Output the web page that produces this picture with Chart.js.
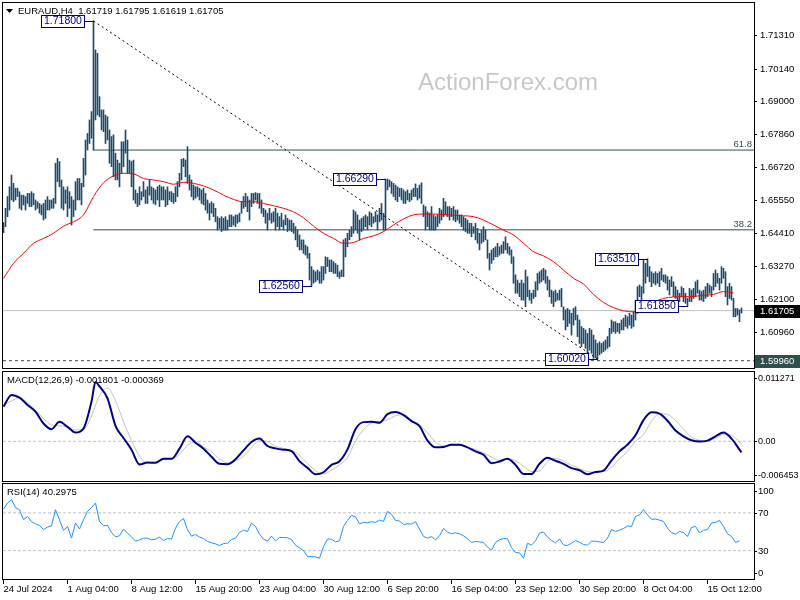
<!DOCTYPE html>
<html>
<head>
<meta charset="utf-8">
<title>EURAUD H4</title>
<script src="https://cdn.jsdelivr.net/npm/chart.js@4.4.1/dist/chart.umd.min.js"></script>
<style>
    body { margin: 0; background: #fff; }
    #wrap { position: relative; width: 800px; height: 600px; overflow: hidden; background: #fff; }
    canvas { position: absolute; left: 0; }
</style>
</head>
<body>
<div id="wrap">
    <canvas id="priceChart" width="800" height="370" style="top:0"></canvas>
    <canvas id="macdChart" width="800" height="112" style="top:370px"></canvas>
    <canvas id="rsiChart" width="800" height="118" style="top:482px"></canvas>
</div>
<script>
const symbolTitle = 'EURAUD,H4  1.61719 1.61795 1.61619 1.61705';

// H4 bars, one per index
const barHigh = [
1.6477,1.6527,1.6568,1.6602,1.6643,1.6614,1.6597,1.6597,1.6585,1.6573,
1.6573,1.6568,1.6579,1.6579,1.6585,1.6579,1.6556,1.6550,1.6544,1.6539,
1.6544,1.6556,1.6568,1.6556,1.6556,1.6562,1.6684,1.6701,1.6690,1.6626,
1.6602,1.6591,1.6602,1.6585,1.6568,1.6556,1.6620,1.6631,1.6631,1.6614,
1.6701,1.6765,1.6788,1.6835,1.6864,1.7180,1.7079,1.7067,1.6916,1.6870,
1.6870,1.6852,1.6846,1.6800,1.6777,1.6783,1.6719,1.6695,1.6684,1.6759,
1.6759,1.6800,1.6765,1.6695,1.6690,1.6695,1.6591,1.6579,1.6602,1.6585,
1.6620,1.6591,1.6602,1.6626,1.6602,1.6597,1.6591,1.6602,1.6608,1.6602,
1.6602,1.6591,1.6602,1.6585,1.6585,1.6579,1.6602,1.6620,1.6649,1.6698,
1.6701,1.6695,1.6742,1.6643,1.6626,1.6608,1.6602,1.6602,1.6597,1.6591,
1.6597,1.6579,1.6556,1.6544,1.6550,1.6544,1.6527,1.6498,1.6492,1.6498,
1.6492,1.6498,1.6486,1.6504,1.6504,1.6498,1.6504,1.6504,1.6510,1.6550,
1.6568,1.6579,1.6568,1.6556,1.6579,1.6579,1.6582,1.6579,1.6579,1.6556,
1.6527,1.6521,1.6510,1.6527,1.6510,1.6515,1.6527,1.6510,1.6498,1.6510,
1.6486,1.6504,1.6492,1.6486,1.6486,1.6475,1.6463,1.6451,1.6434,1.6417,
1.6417,1.6399,1.6393,1.6370,1.6324,1.6312,1.6306,1.6312,1.6306,1.6324,
1.6324,1.6358,1.6356,1.6347,1.6347,1.6341,1.6335,1.6329,1.6306,1.6312,
1.6417,1.6422,1.6440,1.6451,1.6463,1.6521,1.6515,1.6504,1.6486,1.6492,
1.6498,1.6504,1.6498,1.6515,1.6510,1.6498,1.6515,1.6504,1.6527,1.6544,
1.6510,1.6629,1.6629,1.6626,1.6620,1.6614,1.6608,1.6602,1.6597,1.6597,
1.6591,1.6585,1.6591,1.6579,1.6591,1.6597,1.6612,1.6597,1.6608,1.6616,
1.6539,1.6533,1.6515,1.6510,1.6533,1.6504,1.6498,1.6504,1.6527,1.6521,
1.6562,1.6550,1.6533,1.6533,1.6527,1.6533,1.6521,1.6521,1.6504,1.6504,
1.6498,1.6492,1.6486,1.6475,1.6475,1.6463,1.6475,1.6457,1.6440,1.6451,
1.6463,1.6451,1.6417,1.6370,1.6382,1.6388,1.6393,1.6405,1.6393,1.6399,
1.6411,1.6428,1.6405,1.6393,1.6382,1.6358,1.6295,1.6277,1.6266,1.6277,
1.6266,1.6312,1.6289,1.6242,1.6231,1.6242,1.6271,1.6300,1.6306,1.6312,
1.6318,1.6312,1.6289,1.6277,1.6242,1.6237,1.6242,1.6231,1.6242,1.6248,
1.6184,1.6173,1.6178,1.6173,1.6161,1.6178,1.6184,1.6155,1.6138,1.6115,
1.6109,1.6103,1.6091,1.6109,1.6103,1.6085,1.6068,1.6056,1.6062,1.6056,
1.6062,1.6068,1.6080,1.6109,1.6138,1.6132,1.6132,1.6126,1.6126,1.6138,
1.6144,1.6155,1.6149,1.6161,1.6155,1.6167,1.6207,1.6254,1.6260,1.6254,
1.6347,1.6335,1.6351,1.6324,1.6306,1.6300,1.6306,1.6300,1.6306,1.6318,
1.6295,1.6295,1.6289,1.6277,1.6289,1.6271,1.6254,1.6242,1.6231,1.6254,
1.6248,1.6231,1.6213,1.6248,1.6242,1.6248,1.6271,1.6277,1.6242,1.6237,
1.6242,1.6254,1.6266,1.6260,1.6254,1.6300,1.6312,1.6300,1.6283,1.6324,
1.6318,1.6306,1.6254,1.6266,1.6254,1.6213,1.6178,1.6178,1.6173,1.6180
];
const barLow = [
1.6442,1.6463,1.6498,1.6521,1.6556,1.6550,1.6556,1.6568,1.6527,1.6521,
1.6539,1.6521,1.6544,1.6533,1.6533,1.6539,1.6521,1.6527,1.6510,1.6504,
1.6486,1.6492,1.6521,1.6521,1.6527,1.6527,1.6544,1.6620,1.6602,1.6527,
1.6521,1.6544,1.6498,1.6527,1.6469,1.6498,1.6521,1.6556,1.6556,1.6539,
1.6602,1.6643,1.6730,1.6753,1.6771,1.6730,1.6835,1.6852,1.6846,1.6800,
1.6794,1.6753,1.6765,1.6684,1.6672,1.6637,1.6626,1.6626,1.6602,1.6649,
1.6672,1.6719,1.6649,1.6649,1.6602,1.6556,1.6544,1.6533,1.6539,1.6556,
1.6568,1.6544,1.6544,1.6573,1.6556,1.6544,1.6539,1.6556,1.6533,1.6556,
1.6556,1.6533,1.6539,1.6556,1.6550,1.6544,1.6550,1.6568,1.6602,1.6626,
1.6672,1.6637,1.6614,1.6591,1.6568,1.6556,1.6562,1.6568,1.6556,1.6544,
1.6539,1.6521,1.6510,1.6486,1.6510,1.6498,1.6480,1.6451,1.6457,1.6446,
1.6451,1.6451,1.6451,1.6463,1.6463,1.6469,1.6463,1.6475,1.6480,1.6510,
1.6527,1.6533,1.6515,1.6486,1.6533,1.6544,1.6556,1.6544,1.6527,1.6510,
1.6498,1.6475,1.6451,1.6486,1.6475,1.6480,1.6451,1.6463,1.6451,1.6463,
1.6451,1.6469,1.6446,1.6451,1.6446,1.6440,1.6417,1.6393,1.6382,1.6382,
1.6370,1.6364,1.6353,1.6277,1.6256,1.6266,1.6271,1.6277,1.6266,1.6266,
1.6277,1.6300,1.6324,1.6306,1.6306,1.6300,1.6300,1.6289,1.6283,1.6289,
1.6289,1.6358,1.6393,1.6417,1.6428,1.6440,1.6451,1.6440,1.6417,1.6446,
1.6451,1.6463,1.6451,1.6469,1.6463,1.6475,1.6480,1.6451,1.6480,1.6486,
1.6451,1.6451,1.6591,1.6602,1.6579,1.6568,1.6556,1.6550,1.6568,1.6556,
1.6544,1.6544,1.6556,1.6550,1.6556,1.6568,1.6568,1.6556,1.6562,1.6544,
1.6498,1.6451,1.6463,1.6451,1.6451,1.6451,1.6451,1.6463,1.6475,1.6486,
1.6498,1.6504,1.6498,1.6486,1.6498,1.6486,1.6480,1.6486,1.6475,1.6463,
1.6451,1.6446,1.6440,1.6440,1.6428,1.6440,1.6417,1.6405,1.6382,1.6405,
1.6411,1.6417,1.6353,1.6312,1.6335,1.6347,1.6358,1.6358,1.6364,1.6370,
1.6370,1.6382,1.6370,1.6364,1.6335,1.6266,1.6231,1.6231,1.6219,1.6207,
1.6207,1.6184,1.6219,1.6207,1.6196,1.6213,1.6219,1.6242,1.6266,1.6271,
1.6277,1.6266,1.6242,1.6219,1.6196,1.6184,1.6202,1.6207,1.6207,1.6184,
1.6138,1.6103,1.6115,1.6126,1.6085,1.6120,1.6138,1.6080,1.6056,1.6045,
1.6056,1.6039,1.6022,1.6033,1.6022,1.6004,1.6006,1.6002,1.6016,1.6022,
1.6027,1.6033,1.6039,1.6045,1.6091,1.6097,1.6091,1.6097,1.6091,1.6103,
1.6103,1.6115,1.6109,1.6120,1.6109,1.6115,1.6138,1.6161,1.6219,1.6207,
1.6231,1.6266,1.6289,1.6271,1.6254,1.6266,1.6260,1.6266,1.6254,1.6277,
1.6271,1.6266,1.6242,1.6225,1.6254,1.6219,1.6213,1.6207,1.6202,1.6219,
1.6202,1.6196,1.6185,1.6202,1.6202,1.6213,1.6219,1.6231,1.6207,1.6207,
1.6202,1.6213,1.6219,1.6231,1.6219,1.6242,1.6254,1.6266,1.6242,1.6266,
1.6283,1.6219,1.6190,1.6213,1.6207,1.6149,1.6149,1.6155,1.6132,1.6162
];

// moving average, one reading every maStep bars
const maStep = 5;
const maValues = [
1.6283,1.6335,1.6370,1.6405,1.6422,1.6440,1.6465,1.6480,1.6504,1.6568,
1.6616,1.6640,1.6649,1.6647,1.6631,1.6626,1.6620,1.6611,1.6618,1.6614,
1.6605,1.6591,1.6573,1.6558,1.6550,1.6550,1.6544,1.6536,1.6527,1.6515,
1.6494,1.6465,1.6440,1.6422,1.6405,1.6408,1.6422,1.6431,1.6446,1.6469,
1.6490,1.6504,1.6507,1.6507,1.6505,1.6503,1.6501,1.6498,1.6486,1.6469,
1.6451,1.6434,1.6405,1.6376,1.6361,1.6341,1.6312,1.6283,1.6263,1.6227,
1.6199,1.6181,1.6170,1.6166,1.6177,1.6199,1.6213,1.6218,1.6219,1.6220,
1.6224,1.6227,1.6237,1.6232
];

const trendBars = [45, 297];
const trendValues = [1.71800, 1.60020];
const fibStartBar = 45;
const fibLevels = [1.67300, 1.64520];
const fibNames = ['61.8', '38.2'];
const markBars = [45, 191, 154, 322, 342, 297];
const markValues = [1.71800, 1.66290, 1.62560, 1.63510, 1.61850, 1.60020];
const lastPrice = 1.61705;
const supportPrice = 1.59960;
const priceTicks = [1.71310, 1.70140, 1.69000, 1.67860, 1.66720, 1.65550, 1.64410, 1.63270, 1.62100, 1.60960];

const macdTitle = 'MACD(12,26,9) -0.001801 -0.000369';
const macdBars = [0,4,8,12,16,20,24,28,32,36,40,44,46,48,52,56,60,64,68,72,76,80,84,88,92,96,100,104,108,112,
116,120,124,128,132,136,140,144,148,152,156,160,164,168,172,176,180,184,188,192,196,200,204,208,212,216,220,224,228,232,
236,240,244,248,252,256,260,264,268,272,276,280,284,288,292,296,300,304,308,312,316,320,324,328,332,336,340,344,348,352,
356,360,364,368,369];
const macdMain = [
0.00564,0.00755,0.00711,0.00591,0.00482,0.00290,0.00197,0.00317,0.00235,0.00142,
0.00208,0.00646,0.00963,0.00892,0.00700,0.00252,0.00055,-0.00136,-0.00377,-0.00344,
-0.00350,-0.00284,-0.00284,-0.00120,0.00082,-0.00022,-0.00120,-0.00251,-0.00366,-0.00372,
-0.00290,-0.00148,-0.00011,0.00044,-0.00076,-0.00115,-0.00136,-0.00158,-0.00323,-0.00432,
-0.00536,-0.00503,-0.00383,-0.00323,-0.00131,0.00197,0.00312,0.00317,0.00301,0.00443,
0.00476,0.00427,0.00328,0.00246,0.00011,-0.00098,-0.00093,-0.00054,-0.00054,-0.00098,
-0.00164,-0.00219,-0.00355,-0.00328,-0.00284,-0.00383,-0.00530,-0.00530,-0.00366,-0.00268,
-0.00317,-0.00366,-0.00437,-0.00470,-0.00536,-0.00498,-0.00476,-0.00312,-0.00164,-0.00054,
0.00099,0.00345,0.00471,0.00449,0.00334,0.00175,0.00082,0.00017,-0.00005,0.00011,
0.00082,0.00142,0.00044,-0.00136,-0.00180
];
const macdSignal = [
0.00591,0.00657,0.00711,0.00629,0.00503,0.00372,0.00268,0.00252,0.00241,0.00186,
0.00192,0.00410,0.00591,0.00739,0.00865,0.00662,0.00317,0.00017,-0.00241,-0.00350,
-0.00339,-0.00301,-0.00290,-0.00208,-0.00065,-0.00005,-0.00093,-0.00169,-0.00284,-0.00350,
-0.00317,-0.00241,-0.00104,0.00011,-0.00005,-0.00082,-0.00115,-0.00148,-0.00230,-0.00361,
-0.00476,-0.00530,-0.00470,-0.00383,-0.00262,0.00000,0.00192,0.00296,0.00317,0.00350,
0.00416,0.00438,0.00345,0.00268,0.00137,-0.00011,-0.00071,-0.00060,-0.00054,-0.00098,
-0.00131,-0.00191,-0.00257,-0.00312,-0.00284,-0.00317,-0.00404,-0.00492,-0.00481,-0.00328,
-0.00279,-0.00323,-0.00388,-0.00443,-0.00492,-0.00503,-0.00492,-0.00421,-0.00284,-0.00164,
0.00000,0.00109,0.00328,0.00449,0.00438,0.00339,0.00197,0.00066,0.00017,0.00006,
0.00049,0.00115,0.00099,-0.00011,-0.00037
];
const macdTicks = [0.011271, 0, -0.006453];
const macdTickLabels = ['0.011271', '0.00', '-0.006453'];

const rsiTitle = 'RSI(14) 40.2975';
const rsiStep = 2;
const rsiValues = [
74.0,80.4,83.9,75.5,73.3,62.7,66.2,60.6,58.4,56.7,
52.4,54.9,56.3,73.3,62.7,51.4,55.6,43.2,59.2,52.8,
62.7,71.6,75.5,80.4,60.9,56.3,56.7,49.2,44.6,45.7,
52.8,48.5,44.6,40.0,41.4,43.2,43.2,41.4,42.2,44.3,
40.7,42.9,42.2,53.8,60.6,64.1,52.1,45.3,47.1,44.3,
42.9,39.7,38.3,37.2,35.4,37.5,37.9,41.8,43.2,49.2,
51.7,50.3,59.2,55.6,47.5,42.2,40.0,45.3,40.4,43.9,
43.9,43.6,41.8,35.8,32.9,30.1,23.7,23.7,23.4,22.0,
34.4,42.2,42.2,39.3,40.4,55.6,62.0,67.3,65.9,58.4,
59.9,59.5,60.6,59.9,62.3,60.9,71.6,68.4,62.0,
61.3,57.7,58.4,58.1,60.6,52.8,45.0,43.2,45.0,41.4,
45.7,53.5,49.6,47.8,48.9,47.8,45.7,42.5,38.6,39.7,
39.3,38.6,33.7,30.5,38.6,41.4,42.9,42.5,33.3,28.0,
27.6,22.0,37.9,35.8,40.4,48.5,49.6,44.3,40.7,38.3,
42.2,36.1,35.4,37.9,40.7,39.0,36.5,35.8,40.0,40.0,
39.3,38.6,43.2,52.4,50.3,51.7,53.5,56.0,55.6,66.2,
67.7,73.3,68.0,63.1,63.4,62.3,60.9,53.8,48.9,47.5,
50.3,49.2,45.0,54.6,55.6,48.9,51.4,52.4,59.2,59.9,
62.0,55.6,47.8,45.0,38.6,40.4
];
const rsiLevels = [70, 30];
const rsiTicks = [100, 70, 30, 0];

const timeTickBars = [0, 32, 64, 96, 128, 160, 192, 224, 256, 288, 320, 352];
const timeTickLabels = ['24 Jul 2024', '1 Aug 04:00', '8 Aug 12:00', '15 Aug 20:00', '23 Aug 04:00', '30 Aug 12:00',
    '6 Sep 20:00', '16 Sep 04:00', '23 Sep 12:00', '30 Sep 20:00', '8 Oct 04:00', '15 Oct 12:00'];

const FONT = '"Liberation Sans", Arial, sans-serif';
const xMin = -0.25;
const xMax = 375.25;
const barColor = '#1d4a6c';

function hLine(fromBar, toBar, value) {
    return [{ x: fromBar, y: value }, { x: toBar, y: value }];
}

function drawFrame(chart) {
    const a = chart.chartArea, ctx = chart.ctx;
    ctx.save();
    ctx.strokeStyle = '#000';
    ctx.lineWidth = 1;
    ctx.strokeRect(a.left - 0.5, a.top - 0.5, a.right - a.left + 1, a.bottom - a.top + 1);
    ctx.restore();
}

function drawRightLabels(chart, values, labels, padTop, padBottom, textX, size) {
    const ctx = chart.ctx, ys = chart.scales.y, a = chart.chartArea;
    ctx.save();
    ctx.font = size + 'px ' + FONT;
    ctx.fillStyle = '#000';
    ctx.strokeStyle = '#000';
    ctx.textBaseline = 'middle';
    values.forEach((v, i) => {
        let y = Math.round(ys.getPixelForValue(v));
        y = Math.min(Math.max(y, a.top + padTop), a.bottom - padBottom);
        ctx.beginPath();
        ctx.moveTo(a.right + 1, y + 0.5);
        ctx.lineTo(a.right + 3, y + 0.5);
        ctx.stroke();
        ctx.fillText(labels[i], a.right + textX, y + 0.5);
    });
    ctx.restore();
}

function drawPanelTitle(chart, text) {
    const ctx = chart.ctx, a = chart.chartArea;
    ctx.save();
    ctx.font = '9.5px ' + FONT;
    ctx.fillStyle = '#000';
    ctx.textBaseline = 'middle';
    ctx.fillText(text, 7, a.top + 8);
    ctx.restore();
}

function axisTag(chart, value, bg, fg) {
    const ctx = chart.ctx, ys = chart.scales.y, a = chart.chartArea;
    const y = Math.round(ys.getPixelForValue(value));
    ctx.save();
    ctx.fillStyle = bg;
    ctx.fillRect(a.right + 1, y - 6, 45, 13);
    ctx.font = '9.5px ' + FONT;
    ctx.fillStyle = fg;
    ctx.textBaseline = 'middle';
    ctx.fillText(value.toFixed(5), a.right + 6, y + 0.5);
    ctx.restore();
}

const pricePanel = {
    id: 'pricePanel',
    beforeDatasetsDraw(chart) {
        const ctx = chart.ctx;
        ctx.save();
        ctx.font = '24px ' + FONT;
        ctx.fillStyle = '#c8c8c8';
        ctx.fillText('ActionForex.com', 418, 90);
        ctx.restore();
    },
    afterDatasetsDraw(chart) {
        const ctx = chart.ctx, xs = chart.scales.x, ys = chart.scales.y, a = chart.chartArea;
        ctx.save();
        // fibo level names
        ctx.font = '9.5px ' + FONT;
        ctx.fillStyle = '#2f4f4f';
        ctx.textAlign = 'right';
        fibLevels.forEach((v, i) => {
            ctx.fillText(fibNames[i], a.right - 2, Math.round(ys.getPixelForValue(v)) - 3);
        });
        // swing high / low price boxes
        ctx.textAlign = 'left';
        ctx.textBaseline = 'middle';
        ctx.font = '10.5px ' + FONT;
        markBars.forEach((b, i) => {
            const x = Math.round(xs.getPixelForValue(b));
            const y = Math.round(ys.getPixelForValue(markValues[i]));
            const txt = markValues[i].toFixed(5);
            const w = Math.ceil(ctx.measureText(txt).width) + 5;
            const right = x - 10;
            ctx.fillStyle = '#fff';
            ctx.fillRect(right - w, y - 6, w, 12);
            ctx.strokeStyle = '#000080';
            ctx.lineWidth = 1;
            ctx.strokeRect(right - w + 0.5, y - 5.5, w, 12);
            ctx.beginPath();
            ctx.moveTo(right + 0.5, y + 0.5);
            ctx.lineTo(x, y + 0.5);
            ctx.stroke();
            ctx.fillStyle = '#000080';
            ctx.fillText(txt, right - w + 3, y + 0.5);
        });
        ctx.restore();
    },
    afterDraw(chart) {
        const ctx = chart.ctx;
        drawFrame(chart);
        drawRightLabels(chart, priceTicks, priceTicks.map(v => v.toFixed(5)), 0, 0, 6, 9.5);
        axisTag(chart, lastPrice, '#000', '#fff');
        axisTag(chart, supportPrice, '#2f4f4f', '#fff');
        ctx.save();
        ctx.fillStyle = '#000';
        ctx.beginPath();
        ctx.moveTo(6, 9);
        ctx.lineTo(13, 9);
        ctx.lineTo(9.5, 13);
        ctx.closePath();
        ctx.fill();
        ctx.font = '9.5px ' + FONT;
        ctx.textBaseline = 'middle';
        ctx.fillText(symbolTitle, 18, 11);
        ctx.restore();
    }
};

const macdPanel = {
    id: 'macdPanel',
    afterDraw(chart) {
        drawFrame(chart);
        drawRightLabels(chart, macdTicks, macdTickLabels, 6, 6, 4, 9);
        drawPanelTitle(chart, macdTitle);
    }
};

const rsiPanel = {
    id: 'rsiPanel',
    afterDraw(chart) {
        const ctx = chart.ctx, xs = chart.scales.x, a = chart.chartArea;
        drawFrame(chart);
        drawRightLabels(chart, rsiTicks, rsiTicks.map(String), 7, 6, 4, 9.5);
        drawPanelTitle(chart, rsiTitle);
        ctx.save();
        ctx.strokeStyle = '#000';
        ctx.fillStyle = '#000';
        ctx.font = '9.5px ' + FONT;
        ctx.textBaseline = 'middle';
        timeTickBars.forEach((b, i) => {
            const x = Math.floor(xs.getPixelForValue(b)) + 0.5;
            ctx.beginPath();
            ctx.moveTo(x, a.bottom + 1);
            ctx.lineTo(x, a.bottom + 5);
            ctx.stroke();
            ctx.fillText(timeTickLabels[i], x, a.bottom + 10);
        });
        ctx.restore();
    }
};

const baseOptions = {
    responsive: false,
    animation: false,
    devicePixelRatio: 1,
    events: [],
    plugins: { legend: { display: false }, tooltip: { enabled: false } }
};

const barData = barHigh.map((h, i) => ({ x: i, y: [barLow[i], h] }));
const maData = maValues.map((v, i) => ({ x: i * maStep, y: v }));
const trendData = trendBars.map((b, i) => ({ x: b, y: trendValues[i] }));

new Chart(document.getElementById('priceChart'), {
    type: 'bar',
    data: {
        datasets: [
            { type: 'line', data: maData, borderColor: '#ff0000', borderWidth: 1, pointRadius: 0, cubicInterpolationMode: 'monotone', order: 0 },
            { type: 'line', data: trendData, borderColor: '#000', borderWidth: 1, borderDash: [2, 3], pointRadius: 0, order: 1 },
            { type: 'line', data: hLine(fibStartBar, xMax, fibLevels[0]), borderColor: '#2f4f4f', borderWidth: 1, pointRadius: 0, order: 2 },
            { type: 'line', data: hLine(fibStartBar, xMax, fibLevels[1]), borderColor: '#2f4f4f', borderWidth: 1, pointRadius: 0, order: 2 },
            { type: 'bar', data: barData, backgroundColor: barColor, barThickness: 1, borderWidth: 0, order: 3 },
            { type: 'line', data: hLine(xMin, xMax, lastPrice), borderColor: '#c0c0c0', borderWidth: 1, pointRadius: 0, order: 4 },
            { type: 'line', data: hLine(xMin, xMax, supportPrice), borderColor: '#2f4f4f', borderWidth: 1, borderDash: [3, 3], pointRadius: 0, order: 4 }
        ]
    },
    options: Object.assign({}, baseOptions, {
        layout: { padding: { left: 3, right: 46, top: 3, bottom: 2 } },
        scales: {
            x: { type: 'linear', display: false, min: xMin, max: xMax, offset: false },
            y: { type: 'linear', display: false, min: 1.59705, max: 1.72425 }
        }
    }),
    plugins: [pricePanel]
});

new Chart(document.getElementById('macdChart'), {
    type: 'line',
    data: {
        datasets: [
            { data: macdBars.map((b, i) => ({ x: b, y: macdMain[i] })), borderColor: '#00008b', borderWidth: 2, pointRadius: 0, cubicInterpolationMode: 'monotone', order: 0 },
            { data: macdBars.map((b, i) => ({ x: b, y: macdSignal[i] })), borderColor: '#c0c0c0', borderWidth: 1, pointRadius: 0, cubicInterpolationMode: 'monotone', order: 1 },
            { data: hLine(xMin, xMax, 0), borderColor: '#c0c0c0', borderWidth: 1, borderDash: [3, 2], pointRadius: 0, order: 2 }
        ]
    },
    options: Object.assign({}, baseOptions, {
        layout: { padding: { left: 3, right: 46, top: 2, bottom: 1 } },
        scales: {
            x: { type: 'linear', display: false, min: xMin, max: xMax },
            y: { type: 'linear', display: false, min: -0.006453, max: 0.011271 }
        }
    }),
    plugins: [macdPanel]
});

new Chart(document.getElementById('rsiChart'), {
    type: 'line',
    data: {
        datasets: [
            { data: rsiValues.map((v, i) => ({ x: i * rsiStep, y: v })), borderColor: '#1e90ff', borderWidth: 1, pointRadius: 0, order: 0 },
            { data: hLine(xMin, xMax, rsiLevels[0]), borderColor: '#c0c0c0', borderWidth: 1, borderDash: [3, 2], pointRadius: 0, order: 1 },
            { data: hLine(xMin, xMax, rsiLevels[1]), borderColor: '#c0c0c0', borderWidth: 1, borderDash: [3, 2], pointRadius: 0, order: 1 }
        ]
    },
    options: Object.assign({}, baseOptions, {
        layout: { padding: { left: 3, right: 46, top: 2, bottom: 21 } },
        scales: {
            x: { type: 'linear', display: false, min: xMin, max: xMax },
            y: { type: 'linear', display: false, min: 0, max: 100.5 }
        }
    }),
    plugins: [rsiPanel]
});
</script>
</body>
</html>
